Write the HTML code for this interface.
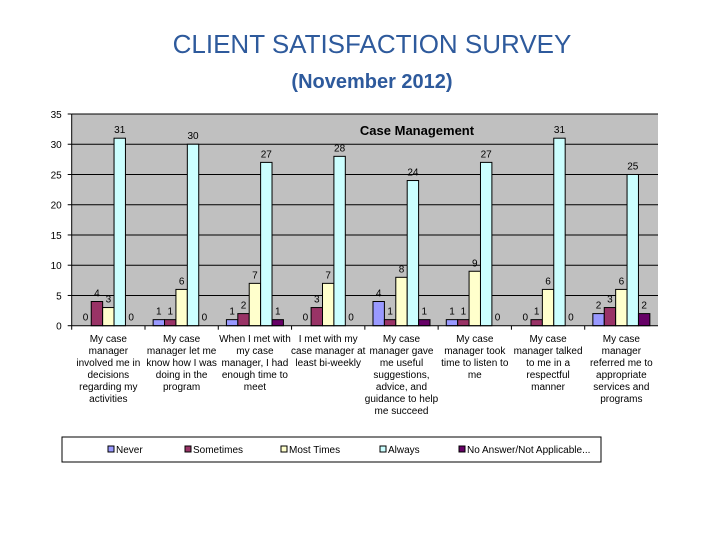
<!DOCTYPE html>
<html><head><meta charset="utf-8"><style>
body{margin:0;background:#fff;}
svg text{font-family:"Liberation Sans",sans-serif;}
</style></head><body>
<svg id="chart" width="720" height="540" xmlns="http://www.w3.org/2000/svg">
<text x="372" y="53" text-anchor="middle" font-size="26" fill="#2e5a9c">CLIENT SATISFACTION SURVEY</text>
<text x="372" y="88" text-anchor="middle" font-size="20" font-weight="bold" fill="#2e5a9c">(November 2012)</text>
<rect x="71.7" y="114" width="586.3" height="211.7" fill="#c0c0c0"/>
<g id="grid"></g>
<g id="bars"></g>
<g id="labels"></g>
<text x="417" y="135" text-anchor="middle" font-size="13" font-weight="bold">Case Management</text>
<g id="xaxis"></g>
<g id="legend"></g>
</svg>
<script>
const categories=[
["My case","manager","involved me in","decisions","regarding my","activities"],
["My case","manager let me","know how I was","doing in the","program"],
["When I met with","my case","manager, I had","enough time to","meet"],
["I met with my","case manager at","least bi-weekly"],
["My case","manager gave","me useful","suggestions,","advice, and","guidance to help","me succeed"],
["My case","manager took","time to listen to","me"],
["My case","manager talked","to me in a","respectful","manner"],
["My case","manager","referred me to","appropriate","services and","programs"]];
const seriesNames=["Never","Sometimes","Most Times","Always","No Answer/Not Applicable..."];
const never=[0,1,1,0,4,1,0,2];
const sometimes=[4,1,2,3,1,1,1,3];
const mostTimes=[3,6,7,7,8,9,6,6];
const always=[31,30,27,28,24,27,31,25];
const noAnswer=[0,0,1,0,1,0,0,2];
const yTicks=[0,5,10,15,20,25,30,35];
const colors=["#9999ff","#993366","#ffffcc","#ccffff","#660066"];
const series=[never,sometimes,mostTimes,always,noAnswer];
const NS="http://www.w3.org/2000/svg";
const X0=71.7,X1=658,Y0=325.7,Y1=114,YMAX=35;
const y=v=>Y0-(v/YMAX)*(Y0-Y1);
const gw=(X1-X0)/categories.length, bw=11.4, off=(gw-bw*5)/2;
const bx=(g,s)=>X0+g*gw+off+s*bw;
function mk(tag,attrs,parent,txt){const e=document.createElementNS(NS,tag);for(const k in attrs)e.setAttribute(k,attrs[k]);if(txt!==undefined)e.textContent=txt;document.getElementById(parent).appendChild(e);return e;}
yTicks.forEach(t=>{
 if(t>0){const l=mk("line",{x1:X0,x2:X1,y1:y(t),y2:y(t),stroke:"#000","stroke-width":1},"grid");
 
 }
 const tl=mk("text",{x:X0-10,y:y(t)+4,"text-anchor":"end","font-size":10},"grid",t);
 
 
 const tk=mk("line",{x1:X0-4,x2:X0,y1:y(t),y2:y(t),stroke:"#000"},"grid");
 
 
});
series.forEach((arr,s)=>arr.forEach((v,g)=>{
 const r=mk("rect",{x:bx(g,s),y:y(v),width:bw,height:Y0-y(v),fill:colors[s],stroke:"#000","stroke-width":v>0?1:0},"bars");
 
 
 const t=mk("text",{x:bx(g,s)+bw/2,y:y(v)-5,"text-anchor":"middle","font-size":10},"labels",v);
 
 
}));
const ax=mk("line",{x1:X0,x2:X0,y1:Y1,y2:Y0,stroke:"#000"},"xaxis");


const bx2=mk("line",{x1:X0,x2:X1,y1:Y0,y2:Y0,stroke:"#000"},"xaxis");


categories.forEach((lines,g)=>{
 const tk=mk("line",{x1:X0+g*gw,x2:X0+g*gw,y1:Y0,y2:Y0+4,stroke:"#000"},"xaxis");
 
 
 lines.forEach((ln,i)=>{
  const t=mk("text",{x:X0+g*gw+gw/2,y:342+i*12,"text-anchor":"middle","font-size":10},"xaxis",ln);
  
  
 });
});
const lb=mk("rect",{x:62,y:437,width:539,height:25,fill:"#fff",stroke:"#000"},"legend");


const lx=[108,185,281,380,459];
seriesNames.forEach((n,s)=>{
 const r=mk("rect",{x:lx[s],y:446,width:6,height:6,fill:colors[s],stroke:"#000"},"legend");
 
 
 const t=mk("text",{x:lx[s]+8,y:453,"font-size":10},"legend",n);
 
 
});
</script>
</body></html>
